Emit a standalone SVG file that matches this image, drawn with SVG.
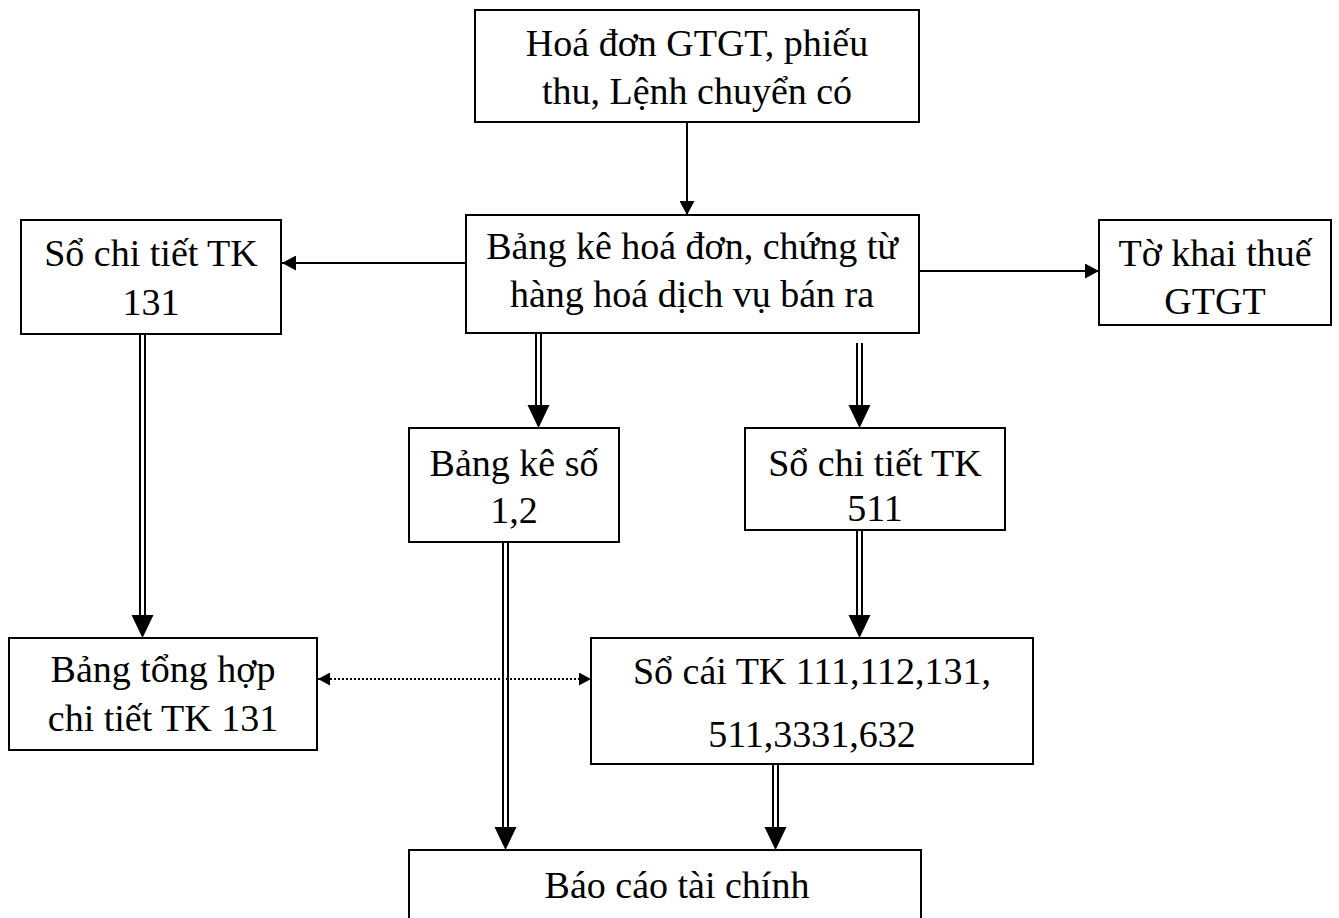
<svg xmlns="http://www.w3.org/2000/svg" width="1339" height="918" viewBox="0 0 1339 918">
<style>
.box{fill:#fff;stroke:#000;stroke-width:2}
.t{font-family:"Liberation Serif","Times New Roman",serif;font-size:38px;fill:#000;text-anchor:middle}
.ln{stroke:#000;stroke-width:2;fill:none}
.dl{stroke:#000;stroke-width:2;fill:none}
.hd{fill:#000;stroke:none}
.dot{stroke:#000;stroke-width:2;stroke-dasharray:2 2;fill:none}
</style>
<defs>
<marker id="arr" markerUnits="userSpaceOnUse" markerWidth="15" markerHeight="15" refX="14" refY="7.5" orient="auto">
<path d="M0,0 L14,7.5 L0,15 z" fill="#000"/>
</marker>
<marker id="arrS" markerUnits="userSpaceOnUse" markerWidth="13" markerHeight="13" refX="12" refY="6.5" orient="auto-start-reverse">
<path d="M0,0 L12,6.5 L0,13 z" fill="#000"/>
</marker>
</defs>
<rect width="1339" height="918" fill="#fff"/>
<g id="n1"><rect class="box" x="475" y="10" width="444" height="112"/><text class="t" x="697" y="56">Hoá đơn GTGT, phiếu</text><text class="t" x="697" y="104">thu, Lệnh chuyển có</text></g>
<g id="n2"><rect class="box" x="466" y="215" width="453" height="118"/><text class="t" x="692" y="259">Bảng kê hoá đơn, chứng từ</text><text class="t" x="692" y="307">hàng hoá dịch vụ bán ra</text></g>
<g id="n3"><rect class="box" x="21" y="220" width="260" height="114"/><text class="t" x="151" y="266">Sổ chi tiết TK</text><text class="t" x="151" y="315">131</text></g>
<g id="n4"><rect class="box" x="1099" y="220" width="232" height="105"/><text class="t" x="1215" y="266">Tờ khai thuế</text><text class="t" x="1215" y="314">GTGT</text></g>
<g id="n5"><rect class="box" x="409" y="428" width="210" height="114"/><text class="t" x="514" y="476">Bảng kê số</text><text class="t" x="514" y="523">1,2</text></g>
<g id="n6"><rect class="box" x="745" y="428" width="260" height="102"/><text class="t" x="875" y="476">Sổ chi tiết TK</text><text class="t" x="875" y="521">511</text></g>
<g id="n7"><rect class="box" x="9" y="638" width="308" height="112"/><text class="t" x="163" y="682">Bảng tổng hợp</text><text class="t" x="163" y="731">chi tiết TK 131</text></g>
<g id="n8"><rect class="box" x="591" y="638" width="442" height="126"/><text class="t" x="812" y="684">Sổ cái TK 111,112,131,</text><text class="t" x="812" y="747">511,3331,632</text></g>
<g id="n9"><rect class="box" x="409" y="850" width="512" height="90"/><text class="t" x="677" y="898">Báo cáo tài chính</text></g>
<g id="connectors">
<line class="ln" x1="687" y1="122" x2="687" y2="215" marker-end="url(#arr)"/>
<line class="ln" x1="466" y1="263" x2="282" y2="263" marker-end="url(#arr)"/>
<line class="ln" x1="919" y1="271" x2="1099" y2="271" marker-end="url(#arr)"/>
<line class="dot" x1="318" y1="679" x2="591" y2="679" marker-start="url(#arrS)" marker-end="url(#arrS)"/>
<path class="dl" d="M140,334 V616 M145,334 V616"/><path class="hd" d="M131.5,615 H153.5 L142.5,638 z"/>
<path class="dl" d="M536,333 V406 M541,333 V406"/><path class="hd" d="M527.5,405 H549.5 L538.5,428 z"/>
<path class="dl" d="M857,343 V406 M862,343 V406"/><path class="hd" d="M848.5,405 H870.5 L859.5,428 z"/>
<path class="dl" d="M503,542 V828 M508,542 V828"/><path class="hd" d="M494.5,827 H516.5 L505.5,850 z"/>
<path class="dl" d="M857,530 V616 M862,530 V616"/><path class="hd" d="M848.5,615 H870.5 L859.5,638 z"/>
<path class="dl" d="M773,764 V828 M778,764 V828"/><path class="hd" d="M764.5,827 H786.5 L775.5,850 z"/>
</g>
</svg>
